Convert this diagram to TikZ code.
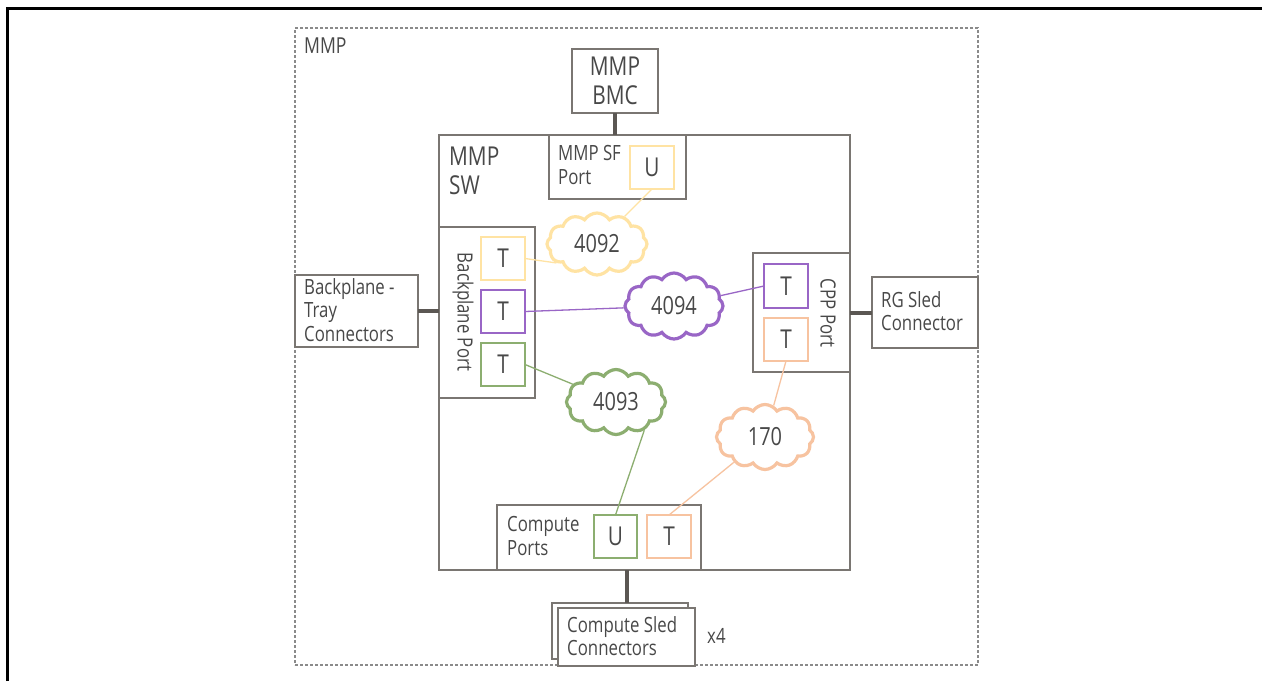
\documentclass[tikz,border=0pt]{standalone}
\usepackage{fontspec}
\setmainfont{Open Sans}[FakeStretch=0.8]
\usetikzlibrary{shapes.symbols}
\definecolor{txt}{HTML}{484848}
\definecolor{bx}{HTML}{7A7672}
\definecolor{thk}{HTML}{5B5753}
\definecolor{dsh}{HTML}{8A8A8A}
\definecolor{cy}{HTML}{FFE3A3}
\definecolor{cp}{HTML}{9966C6}
\definecolor{cg}{HTML}{8CAE70}
\definecolor{co}{HTML}{F7C3A0}
\newcommand\mybox[6]{\node[box,#6,minimum width={(#4-#2)*1pt},minimum height={(#5-#3)*1pt}] (#1) at (#2,#3) {};}
\begin{document}
\begin{tikzpicture}[x=1pt,y=-1pt,
  every node/.style={text=txt},
  box/.style={draw=bx, line width=1.5pt, inner sep=0pt, outer sep=0pt, anchor=north west, fill=white},
  port/.style={line width=1.4pt},
  body/.style={font=\fontsize{21}{23.5}\selectfont, align=left, inner sep=0pt, anchor=west},
  big/.style={font=\fontsize{26}{29.5}\selectfont, inner sep=0pt},
  letter/.style={font=\fontsize{26}{28}\selectfont, inner sep=0pt},
  cloudy/.style={cloud, cloud puffs=12, cloud puff arc=115, aspect=1.6, draw, line width=3.2pt, fill=white, inner sep=0pt, font=\fontsize{25}{27}\selectfont},
  thickline/.style={draw=thk, line width=4pt},
  link/.style={line width=1.3pt}]
\useasboundingbox (0,0) rectangle (1262,681);
% outer page frame
\draw[line width=3pt, black] (7,681) -- (7,8) -- (1262,8);
% MMP dashed region
\mybox{mmp}{295}{28}{978}{665}{draw=dsh, dash pattern=on 3pt off 2pt, fill=none}
\node[anchor=west, inner sep=0pt, font=\fontsize{22}{24}\selectfont] (lmmp) at (304,46) {MMP};
% BMC
\mybox{bmc}{572}{49}{658}{113}{}
\node[big, align=center] (lbmc) at (bmc.center) {MMP\\BMC};
% switch
\mybox{sw}{439}{135}{850}{570}{}
\node[big, align=left, anchor=west] (lsw) at (449,171) {MMP\\SW};
% SF port
\mybox{sf}{549}{135}{686}{199}{}
\node[body] (lsf) at (558,165) {MMP SF\\Port};
\mybox{usf}{630}{146}{674}{189}{draw=cy, port}
\node[letter] (lusf) at (usf.center) {U};
% backplane port
\mybox{bp}{439}{227}{535}{398}{}
\node[body, anchor=center, rotate=-90] (lbp) at (463,312) {Backplane Port};
\mybox{ty}{481}{237}{525}{280}{draw=cy, port}
\node[letter] (lty) at (ty.center) {T};
\mybox{tp}{481}{290}{525}{333}{draw=cp, port}
\node[letter] (ltp) at (tp.center) {T};
\mybox{tg}{481}{343}{525}{386}{draw=cg, port}
\node[letter] (ltg) at (tg.center) {T};
% backplane-tray connectors
\mybox{bt}{295}{275}{418}{347}{}
\node[body] (lbt) at (304,310) {Backplane -\\Tray\\Connectors};
\draw[thickline] (bt.east) -- (bt.east -| bp.west);
% CPP port
\mybox{cpp}{753}{253}{850}{372}{}
\node[body, anchor=center, rotate=-90] (lcpp) at (828,313) {CPP Port};
\mybox{tp2}{764}{264}{808}{308}{draw=cp, port}
\node[letter] (ltp2) at (tp2.center) {T};
\mybox{to}{764}{318}{808}{361}{draw=co, port}
\node[letter] (lto) at (to.center) {T};
% RG sled connector
\mybox{rg}{872}{277}{978}{348}{}
\node[body] (lrg) at (881,311) {RG Sled\\Connector};
\draw[thickline] (rg.west -| cpp.east) -- (rg.west);
% compute ports
\mybox{cpt}{497}{505}{701}{570}{}
\node[body] (lcpt) at (507,536) {Compute\\Ports};
\mybox{uc}{594}{515}{637}{558}{draw=cg, port}
\node[letter] (luc) at (uc.center) {U};
\mybox{toc}{647}{515}{691}{558}{draw=co, port}
\node[letter] (ltoc) at (toc.center) {T};
% compute sled connectors
\mybox{csa}{552}{603}{688}{659}{}
\mybox{csb}{558}{608}{695}{666}{}
\node[body] (lcs) at (567,636) {Compute Sled\\Connectors};
\node[body] (lx4) at (707,636) {x4};
\draw[thickline] (csb.north |- cpt.south) -- (csb.north |- csa.north);
% BMC to SF
\draw[thickline] (bmc.south) -- (bmc.south |- sf.north);
% clouds
\node[cloudy, draw=cy, minimum width=100pt, minimum height=62pt] (c4092) at (597,244) {4092};
\node[cloudy, draw=cp, minimum width=98pt, minimum height=66pt] (c4094) at (674,306) {4094};
\node[cloudy, draw=cg, minimum width=99pt, minimum height=65pt] (c4093) at (616,402) {4093};
\node[cloudy, draw=co, minimum width=97pt, minimum height=65pt] (c170) at (765,437) {170};
% links
\draw[link, cy] (usf.south) -- (c4092);
\draw[link, cy] (ty.east) -- (c4092.205);
\draw[link, cp] (tp.east) -- (c4094);
\draw[link, cp] (c4094) -- (tp2.west);
\draw[link, cg] (tg.east) -- (c4093);
\draw[link, cg] (c4093.-45) -- (uc.north);
\draw[link, co] (to.south) -- (c170);
\draw[link, co] (c170) -- (toc.north);
\end{tikzpicture}
\end{document}
